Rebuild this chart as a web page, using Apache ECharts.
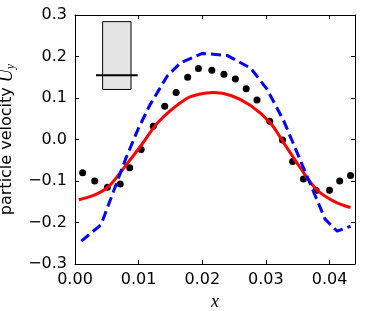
<!DOCTYPE html>
<html>
<head>
<meta charset="utf-8">
<script src="https://cdn.jsdelivr.net/npm/echarts@6/dist/echarts.min.js"></script>
<style>
html,body{margin:0;padding:0;background:#fff;}
#chart{width:373px;height:311px;}
</style>
</head>
<body>
<div id="chart"></div>
<script>
// ---- data ----
const xTicks = [0, 0.01, 0.02, 0.03, 0.04];
const yTicks = [-0.3, -0.2, -0.1, 0.0, 0.1, 0.2, 0.3];

const dotX = [0.0012, 0.0031, 0.0051, 0.0071, 0.0086, 0.0104, 0.0123, 0.0141, 0.0159, 0.0177, 0.0194, 0.0215, 0.0234, 0.0252, 0.0269, 0.0286, 0.0306, 0.0326, 0.0342, 0.0359, 0.0379, 0.0400, 0.0416, 0.0433];
const dotY = [-0.080, -0.100, -0.115, -0.107, -0.068, -0.024, 0.032, 0.080, 0.113, 0.150, 0.171, 0.167, 0.157, 0.146, 0.122, 0.095, 0.044, -0.001, -0.053, -0.095, -0.123, -0.122, -0.100, -0.087];

const redX = [0.0006, 0.0032, 0.0053, 0.0079, 0.0105, 0.0132, 0.0173, 0.0195, 0.0218, 0.0245, 0.0276, 0.0307, 0.0328, 0.0354, 0.0380, 0.0407, 0.0433];
const redY = [-0.145, -0.133, -0.113, -0.064, -0.012, 0.044, 0.0965, 0.109, 0.113, 0.106, 0.082, 0.040, -0.008, -0.068, -0.121, -0.149, -0.164];

const blueX = [0.0010, 0.0041, 0.0080, 0.0100, 0.0118, 0.0145, 0.0166, 0.0200, 0.0239, 0.0276, 0.0302, 0.0328, 0.0393, 0.0412, 0.0433];
const blueY = [-0.245, -0.205, -0.045, 0.028, 0.084, 0.153, 0.185, 0.2075, 0.2027, 0.172, 0.1206, 0.045, -0.192, -0.221, -0.209];

// inset box: x range, y range, median level and median line x range
const boxX = [0.00434, 0.0088];
const boxY = [0.1206, 0.284];
const medianY = 0.155;
const medianX = [0.0033, 0.00985];

const xMin = 0, xMax = 0.044, yMin = -0.3, yMax = 0.3;

const zip = (a, b) => a.map((v, i) => [v, b[i]]);
const FONT = 'DejaVu Sans';
const fmtY = v => (v < 0 ? '\u2212' : '') + Math.abs(v).toFixed(1);
const fmtX = v => v.toFixed(2);

const chart = echarts.init(document.getElementById('chart'), null, {renderer: 'canvas'});

const tickCommon = {show: true, inside: true, length: 4, lineStyle: {color: '#000', width: 1}};

chart.setOption({
  animation: false,
  backgroundColor: '#fff',
  grid: {left: 75, top: 15, width: 280, height: 249, containLabel: false, outerBoundsMode: 'none'},
  xAxis: [{
    type: 'value', min: xMin, max: xMax, interval: 0.01,
    axisLine: {show: true, onZero: false, lineStyle: {color: '#000', width: 1}},
    axisTick: tickCommon,
    splitLine: {show: false},
    axisLabel: {formatter: fmtX, color: '#000', fontFamily: FONT, fontSize: 16, margin: 8, showMaxLabel: false},
    name: 'x', nameLocation: 'middle', nameGap: 21,
    nameTextStyle: {fontFamily: 'Liberation Serif', fontStyle: 'italic', fontSize: 18, color: '#000'}
  }, {
    type: 'value', min: xMin, max: xMax, interval: 0.01, position: 'top',
    axisLine: {show: true, onZero: false, lineStyle: {color: '#000', width: 1}},
    axisTick: tickCommon, axisLabel: {show: false}, splitLine: {show: false}
  }],
  yAxis: [{
    type: 'value', min: yMin, max: yMax, interval: 0.1,
    axisLine: {show: true, onZero: false, lineStyle: {color: '#000', width: 1}},
    axisTick: tickCommon,
    splitLine: {show: false},
    axisLabel: {formatter: fmtY, color: '#000', fontFamily: FONT, fontSize: 16, margin: 8},
    name: 'particle velocity {u|U}{s|y}', nameLocation: 'middle', nameGap: 51, nameRotate: 90,
    nameTextStyle: {
      fontFamily: FONT, fontSize: 16, color: '#000',
      rich: {
        u: {fontFamily: 'Liberation Serif', fontStyle: 'italic', fontSize: 18, color: '#000'},
        s: {fontFamily: 'Liberation Serif', fontStyle: 'italic', fontSize: 12, color: '#000', padding: [8, 0, 0, 0]}
      }
    }
  }, {
    type: 'value', min: yMin, max: yMax, interval: 0.1, position: 'right',
    axisLine: {show: true, onZero: false, lineStyle: {color: '#000', width: 1}},
    axisTick: tickCommon, axisLabel: {show: false}, splitLine: {show: false}
  }],
  series: [
    {
      type: 'custom',
      renderItem: function (params, api) {
        const p0 = api.coord([boxX[0], boxY[1]]);
        const p1 = api.coord([boxX[1], boxY[0]]);
        const m0 = api.coord([medianX[0], medianY]);
        const m1 = api.coord([medianX[1], medianY]);
        return {
          type: 'group',
          children: [
            {type: 'rect', shape: {x: p0[0], y: p0[1], width: p1[0] - p0[0], height: p1[1] - p0[1]},
             style: {fill: '#e5e5e5', stroke: '#000', lineWidth: 1}},
            {type: 'line', shape: {x1: m0[0], y1: m0[1], x2: m1[0], y2: m1[1]},
             style: {stroke: '#000', lineWidth: 2}}
          ]
        };
      },
      data: [[boxX[0], boxY[0]]],
      silent: true, z: 5
    },
    {
      type: 'scatter', data: zip(dotX, dotY), symbol: 'circle', symbolSize: 7,
      itemStyle: {color: '#000', opacity: 1}, z: 2, silent: true
    },
    {
      type: 'line', data: zip(redX, redY), smooth: 0.35, showSymbol: false,
      lineStyle: {color: '#ff0000', width: 3}, z: 3, silent: true
    },
    {
      type: 'line', data: zip(blueX, blueY), smooth: false, showSymbol: false,
      lineStyle: {color: '#0000ff', width: 3, type: [10, 5]}, z: 4, silent: true
    }
  ]
});
</script>
</body>
</html>
